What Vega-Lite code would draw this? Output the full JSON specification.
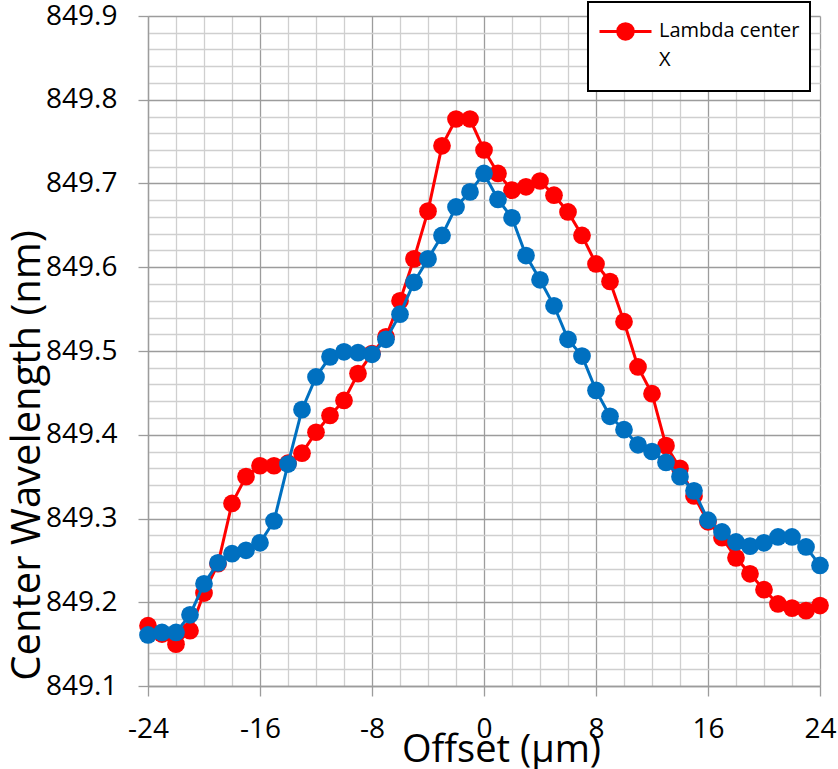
{
  "$schema": "https://vega.github.io/schema/vega-lite/v6.json",
  "width": 672,
  "height": 670,
  "autosize": {"type": "none"},
  "padding": {"left": 148, "top": 16, "right": 18, "bottom": 83},
  "background": "white",
  "config": {"view": {"stroke": null}, "font": "Open Sans"},
  "data": {"values": [
    {"x": -24, "y": 849.172, "s": "Lambda center X"},
    {"x": -23, "y": 849.162, "s": "Lambda center X"},
    {"x": -22, "y": 849.150, "s": "Lambda center X"},
    {"x": -21, "y": 849.166, "s": "Lambda center X"},
    {"x": -20, "y": 849.211, "s": "Lambda center X"},
    {"x": -19, "y": 849.246, "s": "Lambda center X"},
    {"x": -18, "y": 849.318, "s": "Lambda center X"},
    {"x": -17, "y": 849.350, "s": "Lambda center X"},
    {"x": -16, "y": 849.363, "s": "Lambda center X"},
    {"x": -15, "y": 849.363, "s": "Lambda center X"},
    {"x": -14, "y": 849.366, "s": "Lambda center X"},
    {"x": -13, "y": 849.378, "s": "Lambda center X"},
    {"x": -12, "y": 849.403, "s": "Lambda center X"},
    {"x": -11, "y": 849.423, "s": "Lambda center X"},
    {"x": -10, "y": 849.441, "s": "Lambda center X"},
    {"x": -9, "y": 849.473, "s": "Lambda center X"},
    {"x": -8, "y": 849.497, "s": "Lambda center X"},
    {"x": -7, "y": 849.517, "s": "Lambda center X"},
    {"x": -6, "y": 849.560, "s": "Lambda center X"},
    {"x": -5, "y": 849.610, "s": "Lambda center X"},
    {"x": -4, "y": 849.667, "s": "Lambda center X"},
    {"x": -3, "y": 849.745, "s": "Lambda center X"},
    {"x": -2, "y": 849.777, "s": "Lambda center X"},
    {"x": -1, "y": 849.777, "s": "Lambda center X"},
    {"x": 0, "y": 849.740, "s": "Lambda center X"},
    {"x": 1, "y": 849.712, "s": "Lambda center X"},
    {"x": 2, "y": 849.692, "s": "Lambda center X"},
    {"x": 3, "y": 849.696, "s": "Lambda center X"},
    {"x": 4, "y": 849.703, "s": "Lambda center X"},
    {"x": 5, "y": 849.686, "s": "Lambda center X"},
    {"x": 6, "y": 849.666, "s": "Lambda center X"},
    {"x": 7, "y": 849.638, "s": "Lambda center X"},
    {"x": 8, "y": 849.604, "s": "Lambda center X"},
    {"x": 9, "y": 849.583, "s": "Lambda center X"},
    {"x": 10, "y": 849.535, "s": "Lambda center X"},
    {"x": 11, "y": 849.481, "s": "Lambda center X"},
    {"x": 12, "y": 849.449, "s": "Lambda center X"},
    {"x": 13, "y": 849.387, "s": "Lambda center X"},
    {"x": 14, "y": 849.360, "s": "Lambda center X"},
    {"x": 15, "y": 849.327, "s": "Lambda center X"},
    {"x": 16, "y": 849.296, "s": "Lambda center X"},
    {"x": 17, "y": 849.277, "s": "Lambda center X"},
    {"x": 18, "y": 849.253, "s": "Lambda center X"},
    {"x": 19, "y": 849.234, "s": "Lambda center X"},
    {"x": 20, "y": 849.215, "s": "Lambda center X"},
    {"x": 21, "y": 849.198, "s": "Lambda center X"},
    {"x": 22, "y": 849.193, "s": "Lambda center X"},
    {"x": 23, "y": 849.190, "s": "Lambda center X"},
    {"x": 24, "y": 849.196, "s": "Lambda center X"},
    {"x": -24, "y": 849.161, "s": "Lambda center Y"},
    {"x": -23, "y": 849.164, "s": "Lambda center Y"},
    {"x": -22, "y": 849.164, "s": "Lambda center Y"},
    {"x": -21, "y": 849.185, "s": "Lambda center Y"},
    {"x": -20, "y": 849.222, "s": "Lambda center Y"},
    {"x": -19, "y": 849.247, "s": "Lambda center Y"},
    {"x": -18, "y": 849.258, "s": "Lambda center Y"},
    {"x": -17, "y": 849.262, "s": "Lambda center Y"},
    {"x": -16, "y": 849.271, "s": "Lambda center Y"},
    {"x": -15, "y": 849.297, "s": "Lambda center Y"},
    {"x": -14, "y": 849.365, "s": "Lambda center Y"},
    {"x": -13, "y": 849.430, "s": "Lambda center Y"},
    {"x": -12, "y": 849.469, "s": "Lambda center Y"},
    {"x": -11, "y": 849.493, "s": "Lambda center Y"},
    {"x": -10, "y": 849.499, "s": "Lambda center Y"},
    {"x": -9, "y": 849.498, "s": "Lambda center Y"},
    {"x": -8, "y": 849.496, "s": "Lambda center Y"},
    {"x": -7, "y": 849.514, "s": "Lambda center Y"},
    {"x": -6, "y": 849.544, "s": "Lambda center Y"},
    {"x": -5, "y": 849.582, "s": "Lambda center Y"},
    {"x": -4, "y": 849.610, "s": "Lambda center Y"},
    {"x": -3, "y": 849.638, "s": "Lambda center Y"},
    {"x": -2, "y": 849.672, "s": "Lambda center Y"},
    {"x": -1, "y": 849.690, "s": "Lambda center Y"},
    {"x": 0, "y": 849.712, "s": "Lambda center Y"},
    {"x": 1, "y": 849.681, "s": "Lambda center Y"},
    {"x": 2, "y": 849.659, "s": "Lambda center Y"},
    {"x": 3, "y": 849.614, "s": "Lambda center Y"},
    {"x": 4, "y": 849.585, "s": "Lambda center Y"},
    {"x": 5, "y": 849.554, "s": "Lambda center Y"},
    {"x": 6, "y": 849.514, "s": "Lambda center Y"},
    {"x": 7, "y": 849.494, "s": "Lambda center Y"},
    {"x": 8, "y": 849.453, "s": "Lambda center Y"},
    {"x": 9, "y": 849.422, "s": "Lambda center Y"},
    {"x": 10, "y": 849.406, "s": "Lambda center Y"},
    {"x": 11, "y": 849.388, "s": "Lambda center Y"},
    {"x": 12, "y": 849.380, "s": "Lambda center Y"},
    {"x": 13, "y": 849.367, "s": "Lambda center Y"},
    {"x": 14, "y": 849.350, "s": "Lambda center Y"},
    {"x": 15, "y": 849.333, "s": "Lambda center Y"},
    {"x": 16, "y": 849.298, "s": "Lambda center Y"},
    {"x": 17, "y": 849.284, "s": "Lambda center Y"},
    {"x": 18, "y": 849.272, "s": "Lambda center Y"},
    {"x": 19, "y": 849.267, "s": "Lambda center Y"},
    {"x": 20, "y": 849.271, "s": "Lambda center Y"},
    {"x": 21, "y": 849.278, "s": "Lambda center Y"},
    {"x": 22, "y": 849.278, "s": "Lambda center Y"},
    {"x": 23, "y": 849.266, "s": "Lambda center Y"},
    {"x": 24, "y": 849.244, "s": "Lambda center Y"}
  ]},
  "encoding": {
    "x": {
      "field": "x", "type": "quantitative",
      "scale": {"domain": [-24, 24], "nice": false, "zero": false},
      "axis": {
        "values": [-24, -22, -20, -18, -16, -14, -12, -10, -8, -6, -4, -2, 0, 2, 4, 6, 8, 10, 12, 14, 16, 18, 20, 22, 24],
        "grid": true,
        "gridColor": {"condition": {"test": "datum.value % 8 == 0", "value": "#9c9c9c"}, "value": "#cfcfcf"},
        "gridWidth": 1.3,
        "tickOpacity": {"condition": {"test": "datum.value % 8 == 0", "value": 1}, "value": 0},
        "tickSize": 10, "tickColor": "#9c9c9c", "tickWidth": 1.3,
        "domainColor": "#9c9c9c", "domainWidth": 1.3,
        "labelExpr": "datum.value % 8 == 0 ? toString(datum.value) : ''",
        "labelFont": "Open Sans", "labelFontSize": 28, "labelColor": "black",
        "labelBaseline": "alphabetic", "labelPadding": 41,
        "labelFlush": false, "labelOverlap": false,
        "title": "Offset (μm)",
        "titleFont": "Open Sans", "titleFontSize": 38, "titleFontWeight": "normal", "titleColor": "black",
        "titleX": 353, "titleY": 75, "titleAlign": "center", "titleBaseline": "alphabetic"
      }
    },
    "y": {
      "field": "y", "type": "quantitative",
      "scale": {"domain": [849.1, 849.9], "nice": false, "zero": false},
      "axis": {
        "values": [849.1, 849.12, 849.14, 849.16, 849.18, 849.2, 849.22, 849.24, 849.26, 849.28, 849.3, 849.32, 849.34, 849.36, 849.38, 849.4, 849.42, 849.44, 849.46, 849.48, 849.5, 849.52, 849.54, 849.56, 849.58, 849.6, 849.62, 849.64, 849.66, 849.68, 849.7, 849.72, 849.74, 849.76, 849.78, 849.8, 849.82, 849.84, 849.86, 849.88, 849.9],
        "format": ".1f",
        "grid": true,
        "gridColor": {"condition": {"test": "abs(datum.value*10 - round(datum.value*10)) < 0.01", "value": "#9c9c9c"}, "value": "#cfcfcf"},
        "gridWidth": 1.3,
        "tickOpacity": {"condition": {"test": "abs(datum.value*10 - round(datum.value*10)) < 0.01", "value": 1}, "value": 0},
        "tickSize": 10, "tickColor": "#9c9c9c", "tickWidth": 1.3,
        "domainColor": "#9c9c9c", "domainWidth": 1.3,
        "labelExpr": "abs(datum.value*10 - round(datum.value*10)) < 0.01 ? datum.label : ''",
        "labelFont": "Open Sans", "labelFontSize": 28, "labelColor": "black",
        "labelPadding": 21, "labelFlush": false, "labelOverlap": false,
        "title": "Center Wavelength (nm)",
        "titleFont": "Open Sans", "titleFontSize": 40, "titleFontWeight": "normal", "titleColor": "black",
        "titleX": -109, "titleY": 439, "titleAlign": "center", "titleBaseline": "alphabetic", "titleAngle": -90
      }
    },
    "color": {
      "field": "s", "type": "nominal",
      "scale": {"domain": ["Lambda center X", "Lambda center Y"], "range": ["#FF0000", "#0070C0"]},
      "legend": {
        "values": ["Lambda center X"],
        "orient": "none", "legendX": 440, "legendY": -14,
        "title": null,
        "strokeColor": "black", "fillColor": "white", "padding": 10, "cornerRadius": 0,
        "labelFont": "Open Sans", "labelFontSize": 20, "labelColor": "black", "labelLimit": 400,
        "labelOffset": 6,
        "labelExpr": "datum.label == 'Lambda center X' ? ['Lambda center', 'X'] : datum.label",
        "symbolType": "M-1,-0.31L1,-0.31M-0.3,-0.31A0.3,0.3,0,1,1,0.3,-0.31A0.3,0.3,0,1,1,-0.3,-0.31ZM0,1.35L0,1.35",
        "symbolSize": 2704, "symbolStrokeWidth": 3,
        "encode": {
          "legend": {"update": {"strokeWidth": {"value": 2}}},
          "symbols": {"update": {"fill": {"value": "#FF0000"}, "stroke": {"value": "#FF0000"}, "strokeWidth": {"value": 3}, "opacity": {"value": 1}, "strokeCap": {"value": "butt"}}},
          "labels": {"update": {"lineHeight": {"value": 29}, "dy": {"value": -9}}}
        }
      }
    }
  },
  "layer": [
    {
      "transform": [{"filter": "datum.s == 'Lambda center X'"}],
      "mark": {"type": "line", "strokeWidth": 3, "point": {"filled": true, "size": 314, "opacity": 1}}
    },
    {
      "transform": [{"filter": "datum.s == 'Lambda center Y'"}],
      "mark": {"type": "line", "strokeWidth": 3, "point": {"filled": true, "size": 314, "opacity": 1}}
    }
  ]
}
